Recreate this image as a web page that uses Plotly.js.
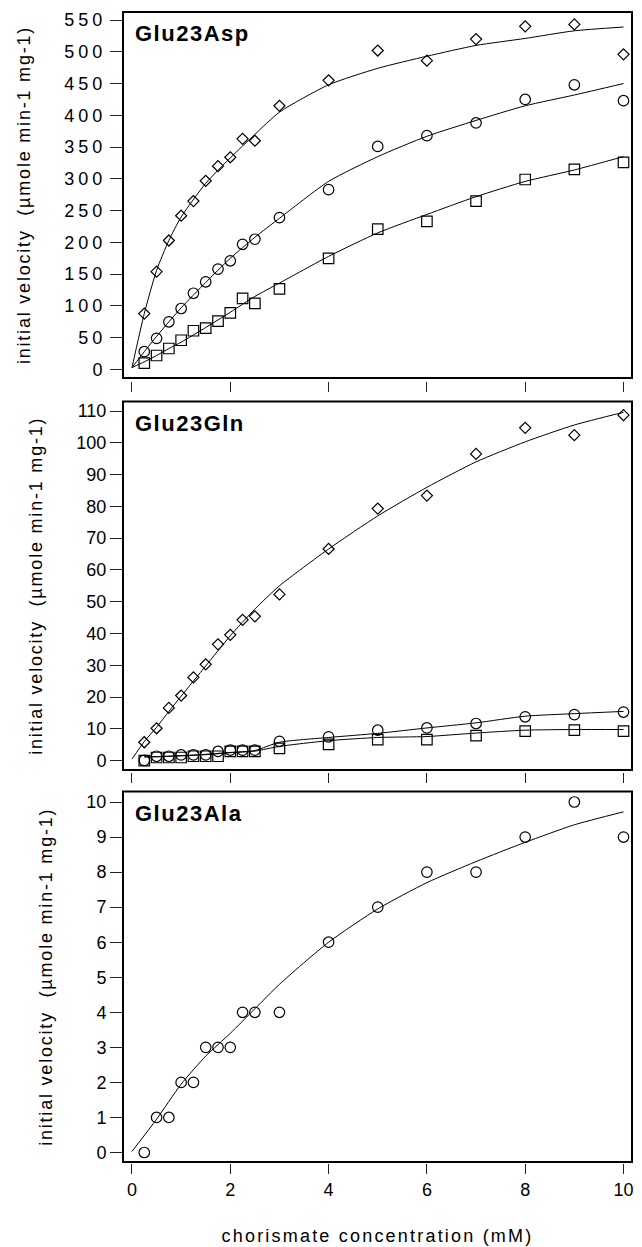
<!DOCTYPE html>
<html>
<head>
<meta charset="utf-8">
<script src="https://cdn.plot.ly/plotly-3.0.1.min.js"></script>
<style>
  html, body { margin: 0; padding: 0; background: #fff; }
  #chart { width: 642px; height: 1247px; }
  .xtick text, .ytick text { letter-spacing: 4px; }
  .ytitle, .y2title, .y3title { letter-spacing: 1.8px; }
  .x3title { letter-spacing: 2.2px; }
  .annotation-text { letter-spacing: 1.5px; }
</style>
</head>
<body>
<div id="chart"></div>
<script>
// ---------------- data ----------------
const conc = [0.25, 0.5, 0.75, 1, 1.25, 1.5, 1.75, 2, 2.25, 2.5, 3, 4, 5, 6, 7, 8, 9, 10];

// Glu23Asp
const aspDiamond = [88, 154, 203, 242, 265, 297, 320, 334, 363, 360, 415, 455, 502, 486, 520, 540, 543, 496];
const aspCircle  = [28, 49, 75, 96, 120, 138, 158, 171, 197, 205, 239, 283, 351, 368, 388, 425, 448, 423];
const aspSquare  = [10, 22, 33, 46, 61, 65, 76, 89, 112, 104, 127, 175, 221, 233, 265, 299, 315, 326];

const fitX = [0, 0.25, 0.5, 0.75, 1, 1.5, 2, 2.5, 3, 4, 5, 6, 7, 8, 9, 10];
const aspDiamondFit = [3, 88, 156, 203, 240, 293, 333, 370, 405, 448, 474, 493, 510, 521, 533, 539];
const aspCircleFit  = [3, 28, 52, 75, 97, 137, 175, 208, 238, 296, 335, 367, 392, 415, 432, 450];
const aspSquareFit  = [3, 12, 22, 33, 43, 66, 90, 115, 136, 178, 215, 244, 272, 296, 314, 335];

// Glu23Gln
const glnDiamond = [5.8, 10.2, 16.6, 20.5, 26.2, 30.3, 36.6, 39.6, 44.3, 45.4, 52.3, 66.6, 79.3, 83.4, 96.5, 104.7, 102.4, 108.7];
const glnCircle  = [0.1, 1.4, 1.4, 1.8, 1.8, 1.8, 2.9, 3.3, 3.3, 3.3, 6.1, 7.5, 9.6, 10.3, 11.7, 13.8, 14.5, 15.3];
const glnSquare  = [0, 1.0, 1.0, 1.0, 1.4, 1.4, 1.4, 2.9, 2.9, 2.9, 3.9, 5.1, 6.6, 6.6, 7.9, 9.3, 9.6, 9.3];

const glnDiamondFit = [0.5, 6, 10.5, 15.5, 20.3, 29.8, 39.3, 47.7, 55, 66.6, 77, 86, 94, 100.3, 105.6, 109.6];
const glnLowFitX = [0.25, 0.5, 1, 1.5, 2, 2.5, 3, 4, 5, 6, 7, 8, 9, 10];
const glnCircleFit = [1.2, 1.3, 1.6, 2.0, 2.6, 3.2, 5.8, 7.3, 8.6, 10.3, 11.9, 14, 14.8, 15.5];
const glnSquareFit = [1.2, 1.2, 1.5, 1.9, 2.5, 3.0, 4.5, 6.3, 7.3, 7.6, 8.7, 9.6, 9.8, 9.8];

// Glu23Ala
const alaCircle = [0, 1, 1, 2, 2, 3, 3, 3, 4, 4, 4, 6, 7, 8, 8, 9, 10, 9];
const alaFitX = [0, 0.5, 1, 1.5, 2, 2.5, 3, 4, 5, 6, 7, 8, 9, 10];
const alaFit  = [0.03, 0.95, 1.95, 2.75, 3.4, 4.1, 4.8, 6.0, 6.95, 7.7, 8.3, 8.85, 9.35, 9.72];

const panelNames = ['Glu23Asp', 'Glu23Gln', 'Glu23Ala'];
const xTickVals = [0, 2, 4, 6, 8, 10];
const yTitle = 'initial velocity  (\u00B5mole min-1 mg-1)';
const xTitle = 'chorismate concentration (mM)';

// ---------------- layout helpers ----------------
const W = 642, H = 1247;
const px = v => v / W;
const py = v => 1 - v / H;
const FONT = 'Liberation Sans, Arial, Helvetica, sans-serif';

function pts(x, y, symbol, size, xa, ya) {
  return {type: 'scatter', mode: 'markers', x: x, y: y, xaxis: xa, yaxis: ya,
    marker: {symbol: symbol, size: size, color: '#000', line: {color: '#000', width: 1.2}},
    cliponaxis: false, hoverinfo: 'x+y', showlegend: false};
}
function fit(x, y, xa, ya) {
  return {type: 'scatter', mode: 'lines', x: x, y: y, xaxis: xa, yaxis: ya,
    line: {color: '#000', width: 1, shape: 'spline', smoothing: 0.6}, hoverinfo: 'skip', showlegend: false};
}

const traces = [
  fit(fitX, aspDiamondFit, 'x', 'y'),
  fit(fitX, aspCircleFit, 'x', 'y'),
  fit(fitX, aspSquareFit, 'x', 'y'),
  pts(conc, aspDiamond, 'diamond-open', 8.5, 'x', 'y'),
  pts(conc, aspCircle, 'circle-open', 10.5, 'x', 'y'),
  pts(conc, aspSquare, 'square-open', 10.5, 'x', 'y'),

  fit(fitX, glnDiamondFit, 'x2', 'y2'),
  fit(glnLowFitX, glnCircleFit, 'x2', 'y2'),
  fit(glnLowFitX, glnSquareFit, 'x2', 'y2'),
  pts(conc, glnDiamond, 'diamond-open', 8.5, 'x2', 'y2'),
  pts(conc, glnCircle, 'circle-open', 10.5, 'x2', 'y2'),
  pts(conc, glnSquare, 'square-open', 10.5, 'x2', 'y2'),

  fit(alaFitX, alaFit, 'x3', 'y3'),
  pts(conc, alaCircle, 'circle-open', 10.5, 'x3', 'y3')
];

// panel boxes in pixels (top, bottom), x-tick line position, y ranges
const boxL = 123, boxR = 632;
const panels = [
  {top: 12,    bottom: 378,  tickY: 381,  yr: [-13.4, 562.6], dtick: 50},
  {top: 401.5, bottom: 770,  tickY: 772,  yr: [-2.93, 112.99], dtick: 10},
  {top: 791.5, bottom: 1162, tickY: 1163, yr: [-0.271, 10.30], dtick: 1}
];
const xr = [-0.183, 10.173];

const layout = {
  width: W, height: H,
  margin: {l: 0, r: 0, t: 0, b: 0},
  paper_bgcolor: '#fff', plot_bgcolor: '#fff',
  font: {family: FONT, size: 18, color: '#000'},
  showlegend: false,
  shapes: [], annotations: []
};

panels.forEach((p, i) => {
  const n = i === 0 ? '' : String(i + 1);
  const last = i === 2;
  layout['xaxis' + n] = {
    domain: [px(boxL), px(boxR)], range: xr, anchor: 'free', position: py(p.tickY),
    showline: false, showgrid: false, zeroline: false,
    ticks: 'outside', ticklen: 10, tickwidth: 1, tickcolor: '#222',
    tickmode: 'array', tickvals: xTickVals,
    showticklabels: last, tickfont: {family: FONT, size: 18, color: '#000'},
    title: last ? {text: xTitle, font: {family: FONT, size: 18, color: '#000'}, standoff: 30} : {text: ''}
  };
  layout['yaxis' + n] = {
    domain: [py(p.bottom), py(p.top)], range: p.yr, anchor: 'x' + n,
    showline: false, showgrid: false, zeroline: false,
    ticks: 'outside', ticklen: 12, tickwidth: 1, tickcolor: '#222',
    tick0: 0, dtick: p.dtick,
    tickfont: {family: FONT, size: 18, color: '#000'},
    title: {text: yTitle, font: {family: FONT, size: 18, color: '#000'}, standoff: 29}
  };
  layout.shapes.push({type: 'rect', xref: 'x' + n + ' domain', yref: 'y' + n + ' domain',
    x0: 0, x1: 1, y0: 0, y1: 1, line: {color: '#000', width: 2}, fillcolor: 'rgba(0,0,0,0)', layer: 'above'});
  layout.annotations.push({xref: 'paper', yref: 'paper', x: px(133), y: py(p.top + 22),
    xanchor: 'left', yanchor: 'middle', showarrow: false, text: '<b>' + panelNames[i] + '</b>',
    font: {family: FONT, size: 22, color: '#000'}});
});

Plotly.newPlot('chart', traces, layout, {staticPlot: true, displayModeBar: false});
</script>
</body>
</html>
